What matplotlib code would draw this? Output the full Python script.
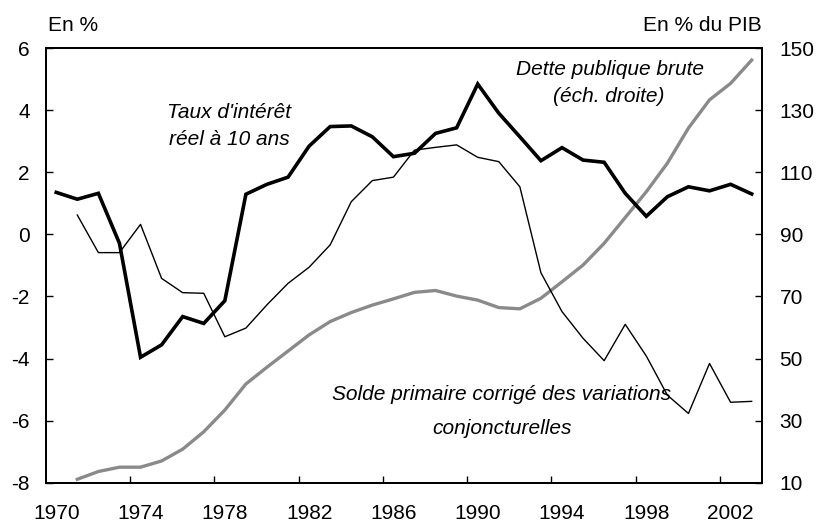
import matplotlib
matplotlib.use("Agg")
import matplotlib.pyplot as plt
from matplotlib.ticker import FixedLocator, NullFormatter, FixedFormatter

years = list(range(1970, 2004))

taux_reel = [1.35, 1.13, 1.32, -0.29, -3.96, -3.56, -2.65, -2.87, -2.14, 1.29,
             1.61, 1.84, 2.84, 3.47, 3.49, 3.14, 2.50, 2.61, 3.25, 3.43,
             4.84, 3.90, 3.14, 2.37, 2.79, 2.39, 2.32, 1.32, 0.58, 1.21,
             1.53, 1.40, 1.61, 1.30]

solde_years = list(range(1971, 2004))
solde_primaire = [0.62, -0.59, -0.59, 0.32, -1.42, -1.88, -1.90, -3.30, -3.02,
                  -2.27, -1.58, -1.06, -0.34, 1.05, 1.73, 1.84, 2.71, 2.80, 2.88,
                  2.48, 2.34, 1.53, -1.24, -2.49, -3.35, -4.07, -2.90, -3.92,
                  -5.18, -5.77, -4.16, -5.41, -5.38]

dette_years = list(range(1971, 2004))
dette = [11.1, 13.6, 15.0, 15.0, 17.0, 20.8, 26.4, 33.4, 41.8, 47.2, 52.4,
         57.6, 61.9, 64.8, 67.2, 69.2, 71.3, 71.9, 70.1, 68.8, 66.4, 66.0,
         69.4, 74.7, 80.1, 87.1, 95.4, 103.7, 112.9, 124.2, 133.3, 138.6, 146.1]

left_ticks = [-8, -6, -4, -2, 0, 2, 4, 6]
right_ticks = [10, 30, 50, 70, 90, 110, 130, 150]
x_labels = ["1970", "1974", "1978", "1982", "1986", "1990", "1994", "1998", "2002"]

FONT = ["Liberation Sans", "DejaVu Sans"]
plt.rcParams['font.family'] = FONT
FS = 15

W, H = 819, 524
fig = plt.figure(figsize=(W / 100, H / 100), dpi=100)
ax = fig.add_axes([45.7 / W, 1 - 482.7 / H, (762.2 - 45.7) / W, (482.7 - 48) / H])
ax2 = ax.twinx()

ax.plot(years, taux_reel, color="black", lw=2.6, solid_joinstyle="miter", zorder=3)
ax.plot(solde_years, solde_primaire, color="black", lw=1.0, zorder=2)
ax2.plot(dette_years, dette, color="#8a8a8a", lw=2.4, zorder=1)

ax.set_zorder(ax2.get_zorder() + 1)
ax.patch.set_visible(False)

ax.set_xlim(1969.5, 2003.5)
ax.set_ylim(-8, 6)
ax2.set_ylim(10, 150)

# x ticks at category boundaries, labels at category centres
major_x = [1969.5 + 4 * k for k in range(1, 9)]
ax.xaxis.set_major_locator(FixedLocator(major_x))
ax.xaxis.set_major_formatter(NullFormatter())
label_pos = [int(s) for s in x_labels]
ax.xaxis.set_minor_locator(FixedLocator(label_pos))
ax.xaxis.set_minor_formatter(FixedFormatter(x_labels))
ax.tick_params(axis="x", which="major", direction="in", length=5, width=1)
ax.tick_params(axis="x", which="minor", length=0, pad=15, labelsize=FS)

ax.set_yticks(left_ticks)
ax.set_yticklabels([str(t) for t in left_ticks])
ax.tick_params(axis="y", direction="in", length=5, width=1, pad=11.5, labelsize=FS)

ax2.set_yticks(right_ticks)
ax2.set_yticklabels([str(t) for t in right_ticks])
ax2.tick_params(axis="y", direction="in", length=5, width=1, pad=12.5, labelsize=FS)

for a in (ax, ax2):
    for s in a.spines.values():
        s.set_linewidth(1.4)
        s.set_color("black")

def ftxt(x, y, s, **kw):
    fig.text(x / W, 1 - y / H, s, fontsize=FS, **kw)

ftxt(48, 31, "En %", ha="left", va="baseline")
ftxt(762, 31, "En % du PIB", ha="right", va="baseline")

ftxt(229, 118.3, "Taux d'intérêt", ha="center", va="baseline", style="italic")
ftxt(229, 145, "réel à 10 ans", ha="center", va="baseline", style="italic")
ftxt(610, 75, "Dette publique brute", ha="center", va="baseline", style="italic")
ftxt(609, 101.7, "(éch. droite)", ha="center", va="baseline", style="italic")
ftxt(502, 400.5, "Solde primaire corrigé des variations", ha="center", va="baseline", style="italic")
ftxt(502, 434, "conjoncturelles", ha="center", va="baseline", style="italic")

fig.savefig("out.png", dpi=100)
